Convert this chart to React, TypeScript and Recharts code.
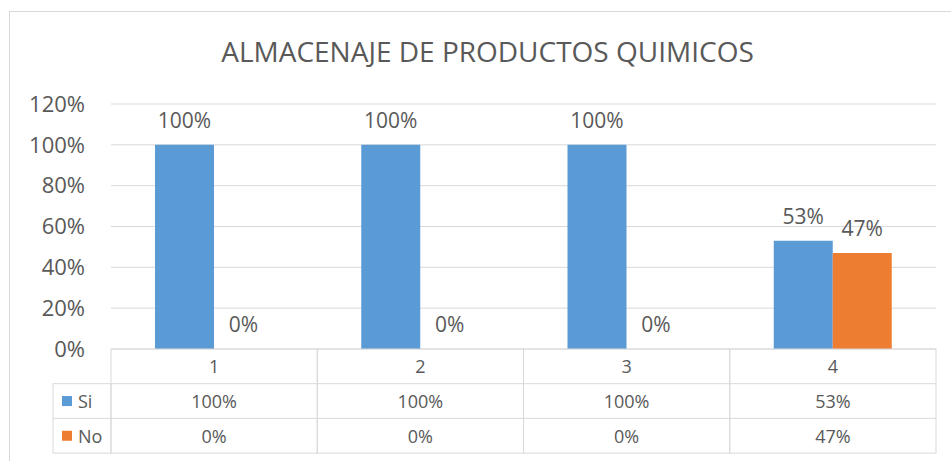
import { BarChart, Bar, XAxis, YAxis, CartesianGrid, LabelList } from "recharts";

// values
const categories = ["1", "2", "3", "4"];
const siValues = [100, 100, 100, 53];
const noValues = [0, 0, 0, 47];
const yTicks = [0, 20, 40, 60, 80, 100, 120];
const seriesNames = ["Si", "No"];

const data = categories.map((c, i) => ({ cat: c, si: siValues[i], no: noValues[i] }));

const TEXT = "#595959";
const GRID = "#d9d9d9";
const BLUE = "#5b9bd5";
const ORANGE = "#ed7d31";
const FONT = "'Open Sans', sans-serif";

const W = 951;
const H = 461;
const PLOT_LEFT = 111;
const PLOT_RIGHT = 936;
const CELL_W = (PLOT_RIGHT - PLOT_LEFT) / categories.length;
const ROW_H = 34.7;
const LEGEND_W = 58;

const pct = (v: number) => `${v}%`;

// the data table under the plot, drawn one column per category tick
function TableTick(props: any) {
  const { x, y, payload, index } = props;
  const left = x - CELL_W / 2;
  const cols = [siValues[index], noValues[index]];
  return (
    <g fontFamily={FONT} fontSize={18} fill={TEXT}>
      <rect x={left} y={y} width={CELL_W} height={ROW_H * 3} fill="none" stroke={GRID} />
      <line x1={left} x2={left + CELL_W} y1={y + ROW_H} y2={y + ROW_H} stroke={GRID} />
      <line x1={left} x2={left + CELL_W} y1={y + ROW_H * 2} y2={y + ROW_H * 2} stroke={GRID} />
      <text x={x} y={y + ROW_H / 2} textAnchor="middle" dominantBaseline="central" fill={TEXT}>
        {payload.value}
      </text>
      {cols.map((v, r) => (
        <text key={r} x={x} y={y + ROW_H * (r + 1.5)} textAnchor="middle" dominantBaseline="central" fill={TEXT}>
          {pct(v)}
        </text>
      ))}
      {index === 0 && (
        <g>
          <rect x={left - LEGEND_W} y={y + ROW_H} width={LEGEND_W} height={ROW_H * 2} fill="none" stroke={GRID} />
          <line x1={left - LEGEND_W} x2={left} y1={y + ROW_H * 2} y2={y + ROW_H * 2} stroke={GRID} />
          {seriesNames.map((n, r) => (
            <g key={n}>
              <rect
                x={left - LEGEND_W + 9}
                y={y + ROW_H * (r + 1.5) - 5}
                width={10}
                height={10}
                fill={r === 0 ? BLUE : ORANGE}
              />
              <text x={left - LEGEND_W + 25} y={y + ROW_H * (r + 1.5)} dominantBaseline="central" fill={TEXT}>
                {n}
              </text>
            </g>
          ))}
        </g>
      )}
    </g>
  );
}

export default function App() {
  return (
    <div style={{ position: "absolute", left: 0, top: 0, width: W, height: H, overflow: "hidden", background: "#fff" }}>
      <div
        style={{
          position: "absolute",
          left: 9,
          top: 11,
          width: 1000,
          height: 500,
          border: `1px solid ${GRID}`,
          boxSizing: "border-box",
        }}
      />
      <div
        style={{
          position: "absolute",
          left: 0,
          width: 975,
          top: 37,
          textAlign: "center",
          fontFamily: FONT,
          fontSize: 28,
          lineHeight: "28px",
          color: TEXT,
          whiteSpace: "nowrap",
        }}
      >
        ALMACENAJE DE PRODUCTOS QUIMICOS
      </div>
      <div style={{ position: "absolute", left: 0, top: 0 }}>
        <BarChart
          width={W}
          height={H}
          data={data}
          margin={{ top: 104, right: W - PLOT_RIGHT, bottom: 8, left: 11 }}
          barGap={0}
        >
          <CartesianGrid horizontal vertical={false} stroke={GRID} />
          <XAxis
            dataKey="cat"
            height={104}
            axisLine={false}
            tickLine={false}
            tickSize={0}
            tickMargin={0}
            interval={0}
            tick={<TableTick />}
          />
          <YAxis
            width={PLOT_LEFT - 11}
            domain={[0, 120]}
            ticks={yTicks}
            interval={0}
            tickFormatter={pct}
            axisLine={false}
            tickLine={false}
            tickSize={0}
            tickMargin={26}
            tick={{ fill: TEXT, fontSize: 22, fontFamily: FONT }}
          />
          {/* tiny minPointSize keeps the zero bars (and their 0% labels) */}
          <Bar dataKey="si" name="Si" fill={BLUE} barSize={59} minPointSize={0.01} isAnimationActive={false}>
            <LabelList dataKey="si" position="top" offset={17} formatter={pct} fill={TEXT} fontSize={21} fontFamily={FONT} />
          </Bar>
          <Bar dataKey="no" name="No" fill={ORANGE} barSize={59} minPointSize={0.01} isAnimationActive={false}>
            <LabelList dataKey="no" position="top" offset={17} formatter={pct} fill={TEXT} fontSize={21} fontFamily={FONT} />
          </Bar>
        </BarChart>
      </div>
    </div>
  );
}
